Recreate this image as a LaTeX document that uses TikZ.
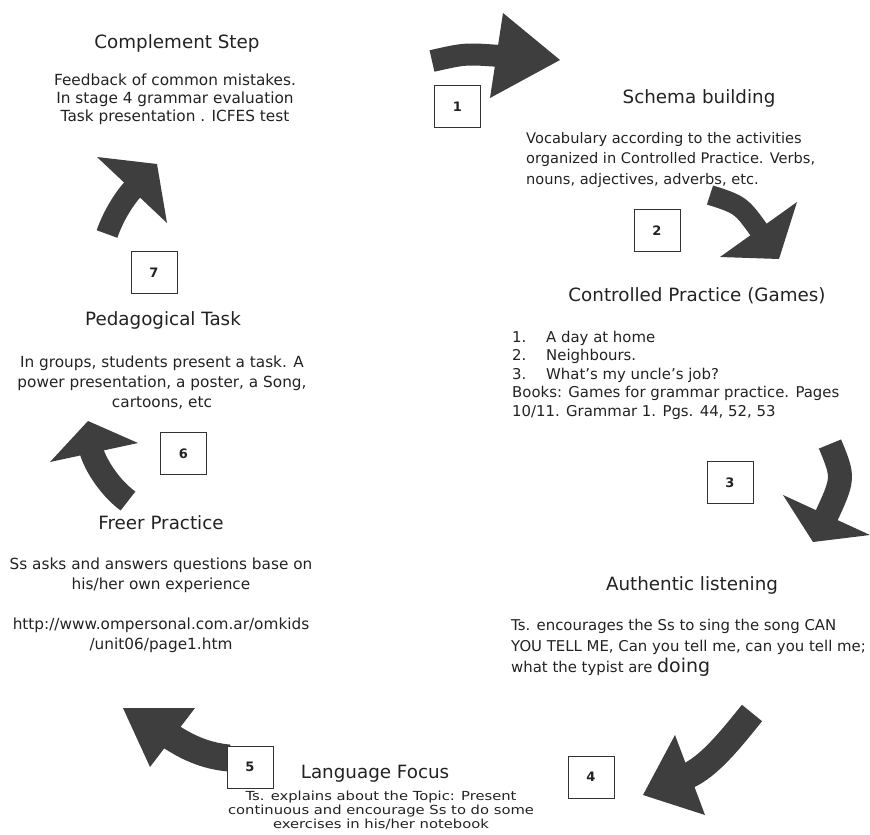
\documentclass[tikz,border=0pt]{standalone}
\usepackage{fontspec}
\setmainfont{DejaVu Sans}
\newfontfamily\widefont[FakeStretch=1.18]{DejaVu Sans}
\usepackage{tikz}
\definecolor{arrowgray}{RGB}{62, 62, 62}
\definecolor{inkgray}{RGB}{34, 34, 34}

\begin{document}
\begin{tikzpicture}[x=1pt, y=-1pt,
  heading/.style={anchor=base, inner sep=0, text=inkgray, font=\fontsize{18.3}{22}\selectfont},
  body/.style={inner sep=0, text=inkgray, align=center},
  numbox/.style={draw=black!80, line width=0.8pt, fill=white, minimum width=46pt, minimum height=42pt, inner sep=0, text=inkgray, font=\fontsize{13}{15}\selectfont\bfseries},
  shaft/.style={arrowgray, line width=#1},
  head/.style={fill=arrowgray}]
  \useasboundingbox (0,0) rectangle (870,835);

  % curved arrows, shaft first then head
  \draw[shaft=22pt] (432,61) .. controls (465,53.5) .. (500,56);
  \fill[head] (503,13) -- (560,60) -- (490,98) -- cycle;
  \draw[shaft=20pt] (710,195) .. controls (741,205) .. (761,233);
  \fill[head] (797,202) -- (779,259) -- (720,257) -- cycle;
  \draw[shaft=24pt] (830,444) .. controls (844,478) .. (825,519);
  \fill[head] (783,495) -- (813,542) -- (870,535) -- cycle;
  \draw[shaft=26pt] (752,713) .. controls (736,732.5) and (709.4,767.7) .. (686,776.5);
  \fill[head] (675,735) -- (643,795) -- (705,815) -- cycle;
  \draw[shaft=27pt] (229,758) .. controls (205,756) and (185.6,746.5) .. (169,735.3);
  \fill[head] (123,708) -- (195,708) -- (150,767) -- cycle;
  \draw[shaft=24pt] (128,501) .. controls (107.8,486.3) and (93.5,461) .. (91,449);
  \fill[head] (88,421) -- (50,462) -- (138,443) -- cycle;
  \draw[shaft=22pt] (107,234) .. controls (113.6,215.2) and (124.4,198) .. (134.8,187);
  \fill[head] (97,157) -- (157,164) -- (167,223) -- cycle;

  % step numbers
  \node[numbox] (n1) at (457.5,106.5) {1};
  \node[numbox] (n2) at (657,230.5) {2};
  \node[numbox] (n3) at (730,482.5) {3};
  \node[numbox] (n4) at (591,777) {4};
  \node[numbox] (n5) at (250,767) {5};
  \node[numbox] (n6) at (183.5,453.5) {6};
  \node[numbox] (n7) at (154,272.5) {7};

  % stages
  \node[heading] (complement) at (177,48.7) {Complement Step};
  \node[body, anchor=north, font=\fontsize{15.3}{18}\selectfont] (complementtxt) at (175,73.5)
    {Feedback of common mistakes.\\ In stage 4 grammar evaluation\\ Task presentation . ICFES test};

  \node[heading] (schema) at (699,103.7) {Schema building};
  \node[body, align=left, anchor=north west, font=\fontsize{14.6}{20.5}\selectfont] (schematxt) at (526,131.8)
    {Vocabulary according to the activities\\ organized in Controlled Practice. Verbs,\\ nouns, adjectives, adverbs, etc.};

  \node[heading] (controlled) at (697,301.7) {Controlled Practice (Games)};
  \node[body, align=left, anchor=north west, font=\fontsize{14.9}{18.5}\selectfont] (games) at (512,330.7)
    {\makebox[34pt][l]{1.}A day at home\\ \makebox[34pt][l]{2.}Neighbours.\\ \makebox[34pt][l]{3.}What's my uncle's job?\\
     Books: Games for grammar practice. Pages\\ 10/11. Grammar 1. Pgs. 44, 52, 53};

  \node[heading] (listening) at (692,590.7) {Authentic listening};
  \node[body, align=left, anchor=north west, font=\fontsize{14.9}{21}\selectfont] (song) at (511,618.7)
    {Ts. encourages the Ss to sing the song CAN\\ YOU TELL ME, Can you tell me, can you tell me;\\
     what the typist are {\fontsize{19}{21}\selectfont doing}};

  \node[heading] (focus) at (375,778) {Language Focus};
  \node[body, anchor=north, font=\widefont\fontsize{12.5}{14}\selectfont] (focustxt) at (381,791)
    {Ts. explains about the Topic: Present\\ continuous and encourage Ss to do some\\ exercises in his/her notebook};

  \node[heading] (freer) at (161,529.7) {Freer Practice};
  \node[body, anchor=north, font=\fontsize{15.3}{20}\selectfont] (freertxt) at (161,557.5)
    {Ss asks and answers questions base on\\ his/her own experience\\[20pt]
     http://www.ompersonal.com.ar/omkids\\ /unit06/page1.htm};

  \node[heading] (pedagogical) at (163,325.7) {Pedagogical Task};
  \node[body, anchor=north, font=\fontsize{15.3}{20}\selectfont] (tasktxt) at (162,355.5)
    {In groups, students present a task. A\\ power presentation, a poster, a Song,\\ cartoons, etc};
\end{tikzpicture}
\end{document}
